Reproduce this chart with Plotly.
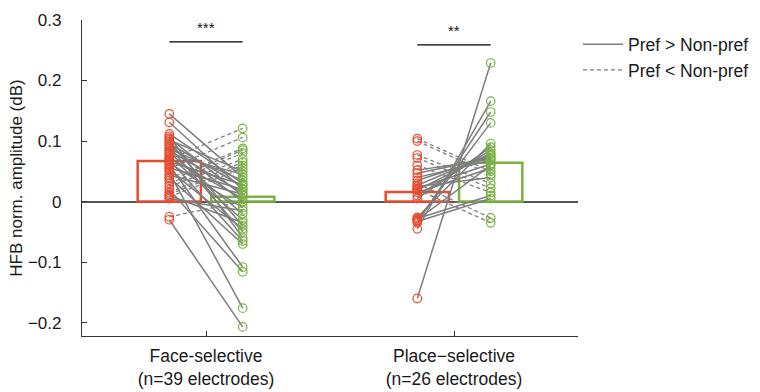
import plotly.graph_objects as go

# Group labels and positions
categories = ["Face-selective<br>(n=39 electrodes)", "Place\u2212selective<br>(n=26 electrodes)"]

# Face-selective electrodes: (red condition, green condition) per electrode
face_red = [0.145, 0.131, 0.112, 0.108, 0.105, 0.102, 0.099, 0.096, 0.093, 0.090,
            0.087, 0.084, 0.081, 0.078, 0.075, 0.072, 0.069, 0.066, 0.063, 0.060,
            0.056, 0.052, 0.048, 0.044, 0.040, 0.020, 0.010, 0.005, -0.030,
            0.070, 0.055, 0.038, 0.030, 0.025, 0.015, 0.012, 0.008, -0.025, 0.035]
face_green = [0.040, 0.020, 0.030, -0.060, 0.010, 0.050, -0.040, 0.025, 0.000, -0.050,
              0.035, 0.015, -0.020, 0.045, -0.030, 0.005, -0.065, 0.028, -0.010, -0.108,
              0.020, -0.045, -0.176, 0.012, -0.070, -0.116, -0.035, -0.015, -0.207,
              0.121, 0.106, 0.088, 0.080, 0.070, 0.065, 0.060, 0.055, 0.000, 0.085]

# Place-selective electrodes
place_red = [-0.160, -0.045, -0.035, -0.031, -0.026, 0.005, 0.010, 0.019, 0.027, 0.035,
             0.047, 0.052, -0.030, -0.028, -0.033, 0.015, 0.040, 0.025, 0.022,
             0.104, 0.100, 0.077, 0.072, 0.060, 0.030, 0.020]
place_green = [0.229, 0.166, 0.148, 0.130, 0.096, 0.090, 0.085, 0.080, 0.078, 0.075,
               0.072, 0.070, 0.060, 0.010, 0.005, 0.055, 0.068, 0.040, 0.062,
               0.050, 0.045, 0.030, 0.022, 0.015, -0.027, -0.035]

# Group mean bars: [face group, place group]
bar_red = [0.067, 0.016]
bar_green = [0.008, 0.064]

# Significance labels
sig_labels = ["***", "**"]
sig_levels = [0.264, 0.259]

RED = "rgb(232,76,48)"
GREEN = "rgb(122,178,66)"
GRAY = "rgb(125,125,125)"
TXT = "#1a1a1a"
OFF = 0.148
BW = 0.255

fig = go.Figure()

# Outline bars of group means
fig.add_trace(go.Bar(x=[1 - OFF, 2 - OFF], y=bar_red, width=BW,
                     marker=dict(color="rgba(0,0,0,0)", line=dict(color=RED, width=2.5)),
                     showlegend=False, hoverinfo="skip"))
fig.add_trace(go.Bar(x=[1 + OFF, 2 + OFF], y=bar_green, width=BW,
                     marker=dict(color="rgba(0,0,0,0)", line=dict(color=GREEN, width=2.5)),
                     showlegend=False, hoverinfo="skip"))


def pair_lines(center, reds, greens, pref_is_red):
    solid_x, solid_y, dash_x, dash_y = [], [], [], []
    for r, g in zip(reds, greens):
        pref_higher = (r > g) if pref_is_red else (g > r)
        xs, ys = (solid_x, solid_y) if pref_higher else (dash_x, dash_y)
        xs += [center - OFF, center + OFF, None]
        ys += [r, g, None]
    return solid_x, solid_y, dash_x, dash_y


fs_x, fs_y, fd_x, fd_y = pair_lines(1, face_red, face_green, True)
ps_x, ps_y, pd_x, pd_y = pair_lines(2, place_red, place_green, False)

fig.add_trace(go.Scatter(x=fs_x + ps_x, y=fs_y + ps_y, mode="lines",
                         line=dict(color=GRAY, width=1.5),
                         name="Pref > Non-pref", hoverinfo="skip"))
fig.add_trace(go.Scatter(x=fd_x + pd_x, y=fd_y + pd_y, mode="lines",
                         line=dict(color=GRAY, width=1.3, dash="4px,3px"),
                         name="Pref < Non-pref", hoverinfo="skip"))

# Electrode markers
fig.add_trace(go.Scatter(x=[1 - OFF] * len(face_red) + [2 - OFF] * len(place_red),
                         y=face_red + place_red, mode="markers",
                         marker=dict(symbol="circle-open", size=8.5, color=RED, line=dict(width=1.2)),
                         showlegend=False))
fig.add_trace(go.Scatter(x=[1 + OFF] * len(face_green) + [2 + OFF] * len(place_green),
                         y=face_green + place_green, mode="markers",
                         marker=dict(symbol="circle-open", size=8.5, color=GREEN, line=dict(width=1.2)),
                         showlegend=False))

# Significance bars
for i, (lab, lev) in enumerate(zip(sig_labels, sig_levels)):
    c = i + 1
    fig.add_shape(type="line", x0=c - OFF, x1=c + OFF, y0=lev, y1=lev,
                  line=dict(color="black", width=1.3))
    fig.add_annotation(x=c, y=lev, text=lab, showarrow=False, yshift=14,
                       font=dict(size=15, color=TXT))

fig.update_layout(
    width=760, height=392,
    margin=dict(l=82, r=182, t=20, b=56, autoexpand=False),
    plot_bgcolor="white", paper_bgcolor="white",
    font=dict(family="Liberation Sans, Arial, sans-serif", size=17, color=TXT),
    barmode="overlay",
    legend=dict(x=1.0, y=0.98, xanchor="left", yanchor="top",
                font=dict(size=17.5, color=TXT), bgcolor="rgba(0,0,0,0)",
                tracegroupgap=0, itemwidth=40),
    xaxis=dict(range=[0.5, 2.5], tickvals=[1, 2], ticktext=categories,
               showline=True, linecolor="#333", linewidth=1.3, automargin=False,
               ticks="inside", ticklen=5, tickcolor="#333", ticklabelstandoff=4,
               showgrid=False, zeroline=False, tickfont=dict(size=17.5)),
    yaxis=dict(range=[-0.222, 0.3], tickvals=[-0.2, -0.1, 0, 0.1, 0.2, 0.3],
               ticktext=["\u22120.2", "\u22120.1", "0", "0.1", "0.2", "0.3"],
               showline=True, linecolor="#333", linewidth=1.3, automargin=False,
               ticks="inside", ticklen=5, tickcolor="#333", ticklabelstandoff=16,
               showgrid=False, zeroline=True, zerolinecolor="#555", zerolinewidth=1.5,
               title=dict(text="HFB norm. amplitude (dB)", font=dict(size=17), standoff=0),
               tickfont=dict(size=17)),
)

fig.write_html("out.html")
